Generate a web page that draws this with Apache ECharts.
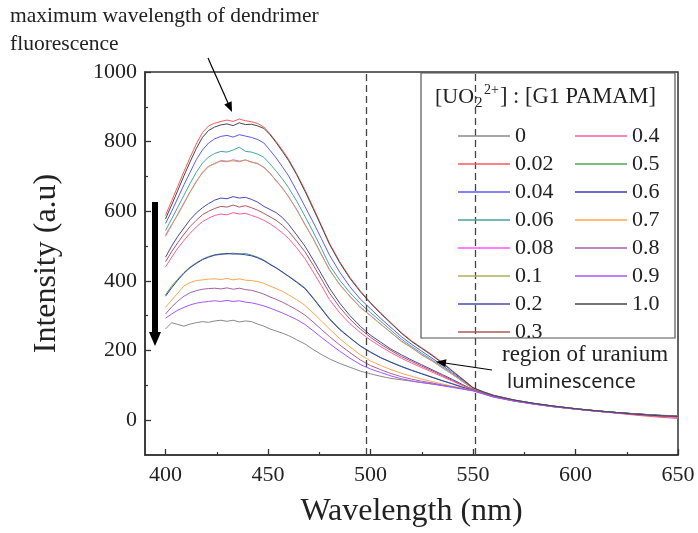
<!DOCTYPE html>
<html><head><meta charset="utf-8">
<script src="https://cdn.jsdelivr.net/npm/echarts@6/dist/echarts.min.js"></script>
<style>html,body{margin:0;padding:0;background:#fff}#c{width:698px;height:533px}</style>
</head><body><div id="c"></div>
<script>
// ---------- data ----------
const wavelengths = [400,403,406,409,412,415,418,421,424,427,430,433,436,439,442,445,448,451,454,457,460,464,468,472,476,480,485,490,495,500,505,510,515,520,525,530,535,540,545,550,555,560,570,580,590,600,610,620,630,640,650];

const seriesNames = ['0','0.02','0.04','0.06','0.08','0.1','0.2','0.3','0.4','0.5','0.6','0.7','0.8','0.9','1.0'];
const seriesColors = ['#8a8a8a','#ff5a5a','#5a5aff','#45a5a5','#ff55ff','#b0b055','#4848b0','#b05858','#ff5c98','#50a850','#3c3cb8','#ffa552','#a562a5','#a455ff','#474747'];

const r0   = [262,280,275,270,276,280,283,281,285,287,284,287,282,285,283,276,270,262,256,250,243,231,219,203,189,176,163,152,141,133,126,120,116,112,108,104,100,96,91,86,77,68,56,47,39,33,27,22,18,15,12];
const r002 = [588,630,672,714,755,793,826,845,853,858,862,858,865,860,857,852,842,822,800,776,750,708,662,612,560,508,455,410,372,338,308,280,252,228,208,188,166,142,118,94,82,72,58,48,40,33,26,20,14,9,5];
const r004 = [565,600,638,676,712,748,776,796,808,815,818,813,820,816,812,806,796,775,753,728,702,659,614,569,522,474,425,383,348,320,292,266,240,218,198,178,158,136,114,92,81,71,58,48,40,33,27,21,16,12,9];
const r006 = [545,578,612,646,680,712,738,756,766,772,770,776,784,772,770,764,755,736,715,693,668,629,586,541,494,445,402,366,335,309,284,258,233,212,192,173,154,133,112,91,80,70,57,48,40,33,27,22,17,13,10];
const r008 = [528,560,592,624,656,686,710,728,738,744,742,748,744,747,742,736,727,708,689,666,643,604,563,521,477,431,390,355,325,300,276,251,228,208,188,170,151,131,111,90,79,69,57,47,39,32,26,21,16,12,9];
const r01  = [532,562,590,622,655,684,712,730,736,746,744,745,742,748,740,738,725,710,686,668,641,606,561,523,475,433,388,356,323,301,275,252,226,209,187,171,150,132,110,91,80,70,57,48,40,33,27,22,17,13,10];
const r02  = [468,500,528,552,576,595,610,622,632,638,636,642,638,640,634,626,614,605,596,582,563,532,500,461,420,379,336,300,270,244,224,204,188,173,159,145,131,117,102,88,78,69,57,47,39,32,27,22,18,14,11];
const r03  = [455,484,510,534,556,574,590,600,608,614,612,618,612,616,610,603,594,584,574,560,543,514,484,446,406,365,324,290,262,238,218,200,183,169,155,142,128,114,100,87,77,68,56,47,39,32,26,21,17,13,10];
const r04  = [440,468,494,516,537,555,570,580,588,592,590,596,592,594,588,582,574,564,552,538,522,495,464,426,387,346,308,277,252,230,211,194,178,164,151,138,125,112,99,87,77,68,56,46,38,32,26,21,16,12,8];
const r05  = [360,385,405,424,440,452,462,470,475,478,477,480,476,479,474,468,460,448,438,426,414,398,380,352,322,292,262,237,214,196,180,167,155,144,134,124,114,105,95,86,77,68,56,47,39,33,27,22,18,14,12];
const r06  = [356,380,402,422,438,450,461,468,474,476,479,477,478,475,472,466,458,447,437,425,413,396,378,350,320,290,260,236,213,195,179,166,154,143,133,123,113,104,94,86,77,68,56,47,39,32,27,22,18,14,11];
const r07  = [324,345,365,386,395,401,403,405,406,404,407,403,406,402,401,398,393,385,378,370,360,346,330,308,285,262,234,210,188,170,157,145,135,126,118,111,104,97,91,85,76,67,55,46,38,32,26,21,17,13,11];
const r08  = [305,325,342,356,366,372,376,378,379,377,380,376,379,375,373,368,362,354,347,339,330,317,302,282,261,240,216,194,173,157,145,134,125,118,112,107,101,96,90,85,76,67,55,46,38,32,26,21,17,13,10];
const r09  = [293,305,316,324,331,336,339,341,343,341,344,341,343,339,337,333,328,322,315,308,300,289,275,257,238,220,198,178,160,147,137,127,119,113,108,104,99,94,89,84,75,66,55,46,38,32,26,21,17,13,10];
const r10  = [578,618,660,702,742,780,812,832,842,848,851,846,854,849,850,845,838,820,797,772,746,705,658,608,557,505,452,407,369,336,306,278,250,226,206,186,164,140,117,93,81,71,58,48,40,33,27,22,17,13,11];

const seriesValues = [r0,r002,r004,r006,r008,r01,r02,r03,r04,r05,r06,r07,r08,r09,r10];

const xTicks = [400,450,500,550,600,650];
const xMinorTicks = [425,475,525,575,625];
const yTicks = [0,200,400,600,800,1000];
const yMinorTicks = [100,300,500,700,900];
const markerWavelengths = [498, 551];

// ---------- chart ----------
const SERIF = '"Liberation Serif","Times New Roman",serif';
const TXT = '#222';
const AX = '#333';

const series = seriesNames.map((name, k) => ({
  name: name,
  type: 'line',
  data: wavelengths.map((w, i) => [w, seriesValues[k][i]]),
  showSymbol: false,
  symbol: 'none',
  color: seriesColors[k],
  lineStyle: { width: 1, color: seriesColors[k] },
  animation: false,
  z: 2
}));
series[0].markLine = {
  silent: true,
  symbol: ['none', 'none'],
  label: { show: false },
  lineStyle: { type: [7, 4], color: '#444', width: 1.3 },
  data: markerWavelengths.map(v => ({ xAxis: v })),
  animation: false
};

function arrow(x1, y1, x2, y2, lw, hl, hw) {
  const dx = x2 - x1, dy = y2 - y1, L = Math.hypot(dx, dy);
  const ux = dx / L, uy = dy / L, px = -uy, py = ux;
  const bx = x2 - ux * hl, by = y2 - uy * hl;
  return [
    { type: 'line', z: 10, shape: { x1: x1, y1: y1, x2: bx + ux * 1, y2: by + uy * 1 }, style: { stroke: '#000', lineWidth: lw } },
    { type: 'polygon', z: 10, shape: { points: [[x2, y2], [bx + px * hw, by + py * hw], [bx - px * hw, by - py * hw]] }, style: { fill: '#000' } }
  ];
}

const plainLabel = v => String(v);

const chart = echarts.init(document.getElementById('c'), null, { renderer: 'canvas' });
const option = {
  animation: false,
  backgroundColor: '#fff',
  grid: { left: 145, right: 20, top: 72, bottom: 74, show: true, borderColor: AX, borderWidth: 1.5, backgroundColor: 'transparent' },
  xAxis: [{
    type: 'value', min: 390, max: 650,
    axisLine: { show: true, onZero: false, lineStyle: { color: AX, width: 1.5 } },
    axisTick: { show: true, inside: true, length: 6, customValues: xTicks, lineStyle: { color: AX, width: 1.3 } },
    axisLabel: { customValues: xTicks, formatter: plainLabel, fontFamily: SERIF, fontSize: 22, color: TXT, margin: 9 },
    splitLine: { show: false },
    name: 'Wavelength (nm)', nameLocation: 'middle', nameGap: 41,
    nameTextStyle: { fontFamily: SERIF, fontSize: 32, color: TXT }
  }, {
    type: 'value', min: 390, max: 650, position: 'bottom',
    axisLine: { show: false, onZero: false },
    axisTick: { show: true, inside: true, length: 3, customValues: xMinorTicks, lineStyle: { color: AX, width: 1.2 } },
    axisLabel: { show: false }, splitLine: { show: false }
  }],
  yAxis: [{
    type: 'value', min: -100, max: 1000,
    axisLine: { show: true, onZero: false, lineStyle: { color: AX, width: 1.5 } },
    axisTick: { show: true, inside: true, length: 6, customValues: yTicks, lineStyle: { color: AX, width: 1.3 } },
    axisLabel: { customValues: yTicks, formatter: plainLabel, fontFamily: SERIF, fontSize: 22, color: TXT, margin: 8 },
    splitLine: { show: false },
    name: 'Intensity (a.u)', nameLocation: 'middle', nameGap: 82,
    nameTextStyle: { fontFamily: SERIF, fontSize: 32, color: TXT }
  }, {
    type: 'value', min: -100, max: 1000, position: 'left',
    axisLine: { show: false, onZero: false },
    axisTick: { show: true, inside: true, length: 3, customValues: yMinorTicks, lineStyle: { color: AX, width: 1.2 } },
    axisLabel: { show: false }, splitLine: { show: false }
  }],
  legend: {
    data: seriesNames,
    orient: 'vertical',
    left: 458, top: 125, height: 222,
    padding: 0,
    itemGap: 6,
    itemWidth: 52, itemHeight: 1.5,
    itemTextGap: 7,
    icon: 'rect',
    textStyle: { fontFamily: SERIF, fontSize: 22, color: TXT, lineHeight: 22, width: 54 },
    selectedMode: false,
    z: 6
  },
  graphic: [
    { type: 'rect', z: 3, shape: { x: 421, y: 73, width: 254, height: 265 }, style: { fill: '#fff', stroke: '#555', lineWidth: 1.2 } },
    { type: 'text', z: 6, x: 435, y: 97, style: { text: '[UO', fontFamily: SERIF, fontSize: 22, fill: TXT, verticalAlign: 'middle' } },
    { type: 'text', z: 6, x: 475, y: 103, style: { text: '2', fontFamily: SERIF, fontSize: 15, fill: TXT, verticalAlign: 'middle' } },
    { type: 'text', z: 6, x: 484, y: 90, style: { text: '2+', fontFamily: SERIF, fontSize: 14, fill: TXT, verticalAlign: 'middle' } },
    { type: 'text', z: 6, x: 500, y: 97, style: { text: '] : [G1 PAMAM]', fontFamily: SERIF, fontSize: 22.5, fill: TXT, verticalAlign: 'middle' } },
    { type: 'text', z: 10, x: 10, y: 16, style: { text: 'maximum wavelength of dendrimer', fontFamily: SERIF, fontSize: 21.5, fill: TXT, verticalAlign: 'middle' } },
    { type: 'text', z: 10, x: 10, y: 44, style: { text: 'fluorescence', fontFamily: SERIF, fontSize: 21.5, fill: TXT, verticalAlign: 'middle' } },
    { type: 'text', z: 10, x: 502, y: 355, style: { text: 'region of uranium', fontFamily: SERIF, fontSize: 23, fill: TXT, verticalAlign: 'middle' } },
    { type: 'text', z: 10, x: 507, y: 382, style: { text: 'luminescence', fontFamily: '"Noto Sans","Open Sans",sans-serif', fontSize: 20, fill: TXT, verticalAlign: 'middle' } }
  ]
    .concat(arrow(208, 58, 232, 112, 1.2, 10, 4))
    .concat(arrow(492, 370, 436, 361.7, 1.2, 10, 4))
    .concat(arrow(155, 202, 155, 346, 6, 14, 6)),
  series: series
};
chart.setOption(option);
</script>
</body></html>
